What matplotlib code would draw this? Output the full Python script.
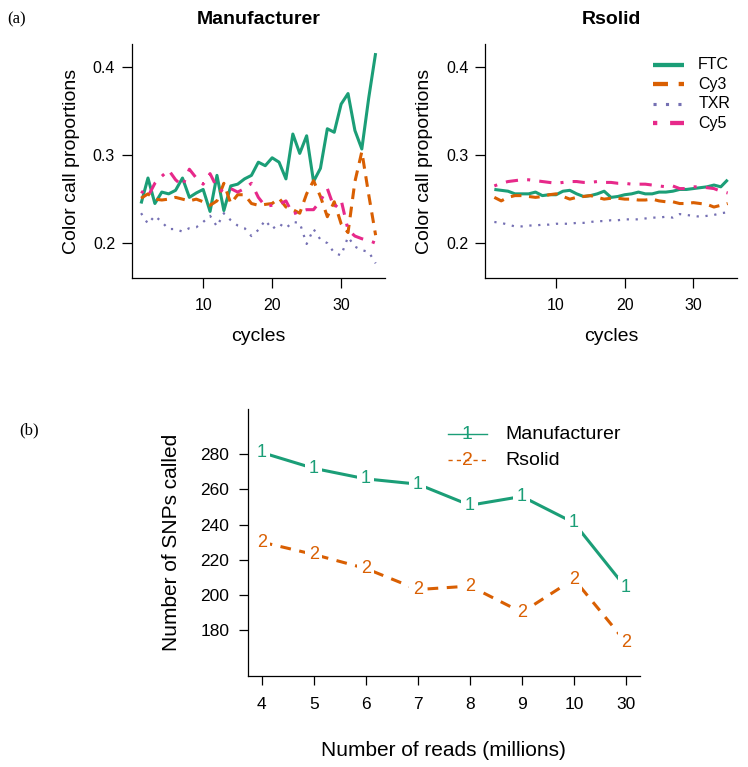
import numpy as np
import matplotlib
matplotlib.use("Agg")
import matplotlib.pyplot as plt

plt.rcParams['font.family'] = ['Liberation Sans', 'DejaVu Sans']

# ---- data -------------------------------------------------------------
cycles = np.arange(1, 36)

ftc_man = [0.245, 0.274, 0.245, 0.258, 0.256, 0.260, 0.274, 0.252, 0.257, 0.261,
           0.236, 0.277, 0.237, 0.265, 0.267, 0.273, 0.277, 0.292, 0.288, 0.297,
           0.292, 0.273, 0.324, 0.302, 0.322, 0.270, 0.285, 0.330, 0.326, 0.358,
           0.370, 0.328, 0.307, 0.365, 0.416]
cy3_man = [0.251, 0.256, 0.250, 0.249, 0.250, 0.252, 0.250, 0.248, 0.250, 0.247,
           0.243, 0.248, 0.268, 0.245, 0.255, 0.255, 0.245, 0.243, 0.244, 0.245,
           0.251, 0.241, 0.238, 0.234, 0.256, 0.271, 0.253, 0.230, 0.247, 0.222,
           0.212, 0.270, 0.304, 0.255, 0.209]
txr_man = [0.234, 0.222, 0.231, 0.224, 0.216, 0.216, 0.213, 0.217, 0.218, 0.224,
           0.231, 0.219, 0.234, 0.226, 0.220, 0.217, 0.208, 0.215, 0.226, 0.216,
           0.222, 0.217, 0.224, 0.223, 0.199, 0.216, 0.204, 0.200, 0.189, 0.186,
           0.207, 0.196, 0.192, 0.190, 0.177]
cy5_man = [0.259, 0.253, 0.268, 0.276, 0.283, 0.272, 0.265, 0.284, 0.274, 0.267,
           0.279, 0.263, 0.258, 0.262, 0.258, 0.262, 0.268, 0.252, 0.242, 0.243,
           0.244, 0.248, 0.233, 0.236, 0.238, 0.238, 0.248, 0.262, 0.240, 0.249,
           0.215, 0.208, 0.205, 0.203, 0.200]

ftc_rs = [0.261, 0.260, 0.259, 0.256, 0.256, 0.256, 0.258, 0.254, 0.255, 0.255,
          0.259, 0.260, 0.256, 0.253, 0.254, 0.256, 0.259, 0.252, 0.253, 0.255,
          0.256, 0.258, 0.256, 0.256, 0.258, 0.258, 0.259, 0.261, 0.261, 0.262,
          0.263, 0.264, 0.266, 0.264, 0.272]
cy3_rs = [0.252, 0.248, 0.252, 0.254, 0.254, 0.253, 0.252, 0.253, 0.255, 0.256,
          0.253, 0.250, 0.252, 0.253, 0.254, 0.252, 0.250, 0.251, 0.251, 0.250,
          0.250, 0.249, 0.249, 0.250, 0.248, 0.247, 0.247, 0.245, 0.245, 0.246,
          0.245, 0.244, 0.241, 0.243, 0.245]
txr_rs = [0.224, 0.223, 0.221, 0.219, 0.219, 0.220, 0.220, 0.221, 0.221, 0.222,
          0.222, 0.222, 0.223, 0.223, 0.224, 0.225, 0.225, 0.226, 0.226, 0.227,
          0.227, 0.227, 0.228, 0.229, 0.229, 0.230, 0.229, 0.233, 0.232, 0.231,
          0.230, 0.231, 0.232, 0.234, 0.235]
cy5_rs = [0.265, 0.268, 0.270, 0.271, 0.272, 0.272, 0.271, 0.270, 0.269, 0.268,
          0.269, 0.270, 0.270, 0.269, 0.269, 0.270, 0.269, 0.269, 0.268, 0.268,
          0.267, 0.267, 0.267, 0.266, 0.265, 0.264, 0.265, 0.262, 0.262, 0.264,
          0.264, 0.263, 0.262, 0.259, 0.257]

dye_names = ["FTC", "Cy3", "TXR", "Cy5"]

reads_labels = ["4", "5", "6", "7", "8", "9", "10", "30"]
snps_man = [281, 272, 266, 263, 251, 256, 241, 204]
snps_rs = [230, 223, 215, 203, 205, 190, 209, 173]

# ---- styles ------------------------------------------------------------
green, orange, purple, pink = "#1B9E77", "#D95F02", "#7570B3", "#E7298A"
dye_styles = [
    dict(color=green, ls="-", lw=2.2),
    dict(color=orange, ls=(0, (3.5, 2.5)), lw=2.2),
    dict(color=purple, ls=(0, (1, 3)), lw=1.6),
    dict(color=pink, ls=(0, (1, 3, 4, 3)), lw=2.2),
]

W, H = 748, 767
fig = plt.figure(figsize=(W / 100, H / 100), dpi=100)


def px_axes(x0, y0, x1, y1):
    return fig.add_axes([x0 / W, 1 - y1 / H, (x1 - x0) / W, (y1 - y0) / H])


def r_style(ax, tl=7, xpad=7, ypad=5, fs=11.5):
    for s in ["top", "right"]:
        ax.spines[s].set_visible(False)
    for s in ["left", "bottom"]:
        ax.spines[s].set_linewidth(0.9)
    ax.tick_params(direction="out", length=tl, width=0.9, labelsize=fs)
    ax.tick_params(axis="x", pad=xpad)
    ax.tick_params(axis="y", pad=ypad)


panels = [
    ("Manufacturer", (131.7, 44.3, 385, 278.3), [ftc_man, cy3_man, txr_man, cy5_man]),
    ("Rsolid", (485, 44.3, 737, 278.3), [ftc_rs, cy3_rs, txr_rs, cy5_rs]),
]

for k, (title, box, series) in enumerate(panels):
    ax = px_axes(*box)
    for vals, st in zip(series, dye_styles):
        ax.plot(cycles, vals, solid_capstyle="butt", **st)
    ax.set_xlim(-0.36, 36.36)
    ax.set_ylim(0.16, 0.426)
    ax.set_xticks([10, 20, 30])
    ax.set_yticks([0.2, 0.3, 0.4])
    ax.set_yticklabels(["0.2", "0.3", "0.4"])
    r_style(ax)
    ax.set_xlabel("cycles", fontsize=14)
    ax.xaxis.set_label_coords(0.5, -0.2496)
    ax.xaxis.label.set_va("center")
    ax.set_ylabel("Color call proportions", fontsize=14, va="center")
    ax.yaxis.set_label_coords(-0.239, 0.5)
    ax.text(0.5, 1.104, title, transform=ax.transAxes, ha="center", va="center",
            fontsize=14, fontweight="bold")
    if k == 1:
        rows = [0.912, 0.829, 0.746, 0.663]
        for name, st, yy in zip(dye_names, dye_styles, rows):
            lst = dict(st)
            lst["lw"] = st["lw"] * 1.4
            ax.plot([0.666, 0.789], [yy, yy], transform=ax.transAxes,
                    solid_capstyle="butt", **lst)
            ax.text(0.846, yy, name, transform=ax.transAxes, ha="left",
                    va="center", fontsize=11.5)

# ---- panel (b) ---------------------------------------------------------
axb = px_axes(247.7, 409.3, 640, 676)
pos = np.arange(1, len(reads_labels) + 1)
for vals, col, ls, ch in [(snps_man, green, "-", "1"),
                          (snps_rs, orange, (0, (3.5, 2.8)), "2")]:
    axb.plot(pos, vals, color=col, ls=ls, lw=2.2, zorder=1)
    for x, y in zip(pos, vals):
        axb.text(x, y, ch, color=col, ha="center", va="center", fontsize=13,
                 zorder=3, bbox=dict(facecolor="white", edgecolor="none",
                                     pad=2.5))
axb.set_xlim(0.73, 8.27)
axb.set_ylim(153.8, 305.6)
axb.set_xticks(pos)
axb.set_xticklabels(reads_labels)
axb.set_yticks([180, 200, 220, 240, 260, 280])
r_style(axb, tl=6.7, xpad=8.5, ypad=6.5, fs=12.5)
axb.set_xlabel("Number of reads (millions)", fontsize=15)
axb.xaxis.set_label_coords(0.5, -0.2775)
axb.xaxis.label.set_va("center")
axb.set_ylabel("Number of SNPs called", fontsize=15, va="center")
axb.yaxis.set_label_coords(-0.193, 0.5)

for name, col, ls, ch, yy in [("Manufacturer", green, "-", "1", 0.906),
                              ("Rsolid", orange, (0, (3, 3)), "2", 0.809)]:
    axb.plot([0.51, 0.609], [yy, yy], transform=axb.transAxes, color=col,
             ls=ls, lw=1.0)
    axb.text(0.5595, yy, ch, transform=axb.transAxes, color=col, ha="center",
             va="center", fontsize=14)
    axb.text(0.658, yy, name, transform=axb.transAxes, ha="left", va="center",
             fontsize=14)

fig.text(17 / W, 1 - 19 / H, "(a)", ha="center", va="center", fontsize=12,
         family="Liberation Serif")
fig.text(29 / W, 1 - 430 / H, "(b)", ha="center", va="center", fontsize=12,
         family="Liberation Serif")

fig.savefig("out.png", dpi=100)
